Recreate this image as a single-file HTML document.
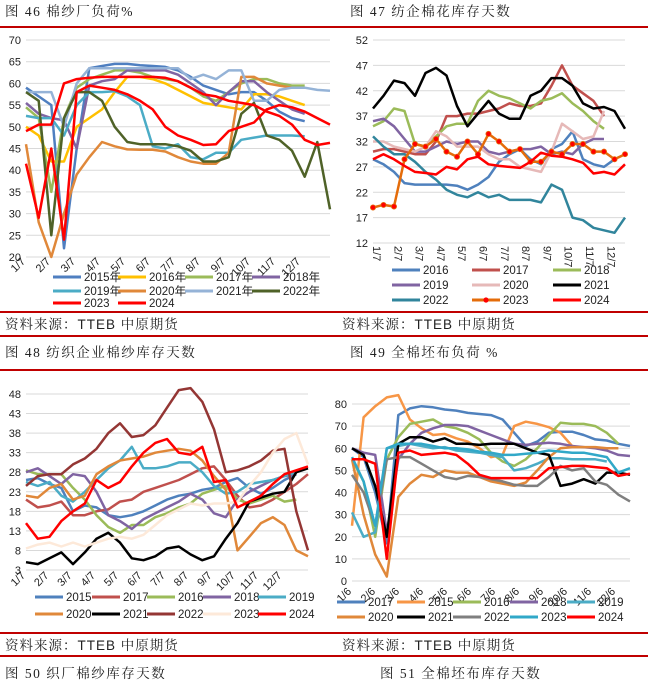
<!DOCTYPE html>
<html><head><meta charset="utf-8">
<style>
html,body{margin:0;padding:0;background:#fff;}
svg{display:block;}
.t{font-family:"Liberation Serif","Noto Serif CJK SC",serif;font-size:13.5px;fill:#222;letter-spacing:1.5px;}
.s{font-family:"Liberation Sans","Noto Serif CJK SC",serif;font-size:13.5px;fill:#222;letter-spacing:1px;}
.ax{font-family:"Liberation Sans",sans-serif;font-size:11px;fill:#222;}
.lg{font-family:"Liberation Sans","Noto Sans CJK SC",sans-serif;font-size:11.5px;fill:#222;}
</style></head>
<body>
<svg id="root" width="648" height="684" viewBox="0 0 648 684" xmlns="http://www.w3.org/2000/svg">
<rect width="648" height="684" fill="#fff"/>
<text class="t" x="5" y="16">图 46 棉纱厂负荷%</text>
<text class="t" x="350" y="16">图 47 纺企棉花库存天数</text>
<rect x="0" y="26" width="648" height="2" fill="#c00000"/>
<rect x="0" y="311" width="648" height="2" fill="#c00000"/>
<text class="s" x="5" y="329">资料来源：TTEB 中原期货</text>
<text class="s" x="342" y="329">资料来源：TTEB 中原期货</text>
<rect x="0" y="335" width="648" height="2" fill="#c00000"/>
<text class="t" x="5" y="357">图 48 纺织企业棉纱库存天数</text>
<text class="t" x="350" y="357">图 49 全棉坯布负荷 %</text>
<rect x="0" y="369" width="648" height="2" fill="#c00000"/>
<rect x="0" y="632" width="648" height="2" fill="#c00000"/>
<text class="s" x="5" y="650">资料来源：TTEB 中原期货</text>
<text class="s" x="342" y="650">资料来源：TTEB 中原期货</text>
<rect x="0" y="655" width="648" height="2" fill="#c00000"/>
<text class="t" x="5" y="678">图 50 织厂棉纱库存天数</text>
<text class="t" x="380" y="678">图 51 全棉坯布库存天数</text>
</svg>
<script>
// ---------- Fig 46 data ----------
const c46Ticks = [20,25,30,35,40,45,50,55,60,65,70];
const c46Cats = ["1/7","2/7","3/7","4/7","5/7","6/7","7/7","8/7","9/7","10/7","11/7","12/7"];
const c46_2015 = [59,57,55,22,45,63.5,64,64.5,64.5,64.2,64,63.8,63,61.5,59.5,58.5,57.5,58,58,56,53.5,52,51.3];
const c46_2016 = [50,48,42,42,50,52,54,58,61.5,61.5,61,60,58.5,57,55.5,55,54.5,54,57.5,57.5,57,56,55];
const c46_2017 = [54.5,52,35,52,59,61,62,63,63,62.5,61.5,61,60.5,59,57,56,58,60,61,61,60,59.5,59.5];
const c46_2018 = [55.5,53,52,51.5,45,59.5,60.5,61,63,63,63,63,62,60,58,55,58,60.5,60.5,58,56,54,53];
const c46_2019 = [52.5,52,52,48,55,58,58,58.2,57,55,45.5,45,46,43,42.5,44,44,47,47.5,48,48,48,47.8];
const c46_2020 = [46,28,20,30,39,43,46.5,45.5,44.8,44.7,44.7,44.3,43,42,41.5,41.5,44,61.5,61.5,60,59.5,59,59];
const c46_2021 = [58,58,58,50,60,63.5,63.5,63.5,63.5,63.5,63.5,63.5,63.5,61,62,61,63,63,56,56,58.5,59,59,58.5,58.3];
const c46_2022 = [58,56,25,52,58,58,56,50,46.5,46,46,46,45.5,44.5,42,42,43,53,55.5,48,47,44.5,38.5,46.5,31];
const c46_2023 = [41.5,29,45,24,58,59.5,59,58.5,57.5,56,54,50,48,47,45.8,46,49,50,51,54,55,54.5,53.5,52,50.5];
const c46_2024 = [49,50.5,50.5,60,61,61.3,61.5,61.5,61.5,61.5,61.5,61.3,60.5,59,57.5,57,56,55.5,55,53.5,52.5,50.5,47,45.8,46.3];
// ---------- Fig 47 data ----------
const c47Ticks = [12,17,22,27,32,37,42,47,52];
const c47Cats = ["1/7","2/7","3/7","4/7","5/7","6/7","7/7","8/7","9/7","10/7","11/7","12/7"];
const c47_2016 = [28.5,27.5,26,23.8,23.5,23.5,23.5,23.5,23.3,22.5,23.5,25,28,29.5,30.5,28.5,27.5,30.5,31.5,34,28.5,27.5,27,28.5];
const c47_2017 = [30,30.5,30.5,30,29.5,29.5,32,37,37,37.5,37.5,38,38.5,39.5,39,39,39.5,43,47,43,41.5,40,37];
const c47_2018 = [35,36,38.5,38,31.5,31,33,35,35.5,35.5,40,42,41,40.5,39.5,38.5,40,40.5,41.5,39.5,38,36,34.5];
const c47_2019 = [36,36.5,35,32.5,30,30,31,32,31.5,32,32,30,29.5,30,30.5,30.5,31,29.5,30,29.5,31.5,32.5,32.5];
const c47_2020 = [32,32,31,30.5,30,31,34,33,31,31,31,29.5,28.5,28.5,27,26.5,26,30,35.5,34,32.5,33,38];
const c47_2021 = [38.5,41,44,43.5,41,45.5,46.5,45,39,35,37.5,40,37.5,36.5,36.5,41,42,44.5,44.5,43,39.5,38.5,38.8,38,34.5];
const c47_2022 = [33,31,29.5,29.5,28,26,24.5,22.5,21.5,21,22,21,21.5,20.5,20.5,20.5,20,23.5,22.5,17,16.5,15,14.5,14,17];
const c47_2023 = [19,19.5,19.2,28.5,31.5,31,32.5,30,29,32,29.5,33.5,32,30,30.5,28,28,30,29.5,31.5,31.5,30,30,28.5,29.5];
const c47_2024 = [28.5,29.5,28.5,27.2,26,25.8,25.5,27,26.5,28.5,29,27.5,27.2,27,26.8,28,29.8,29.2,29,28.5,27.8,25.7,26,25.5,27.5];
// ---------- Fig 48 data ----------
const c48Ticks = [3,8,13,18,23,28,33,38,43,48];
const c48Cats = ["1/7","2/7","3/7","4/7","5/7","6/7","7/7","8/7","9/7","10/7","11/7","12/7"];
const c48_2015 = [26,26.5,25,24,18,19.5,19,17,16.5,17,18,19.5,21,22,22.5,23.5,24,25.5,26.5,24,22.5,24,26,27.5];
const c48_2017 = [21,19,19.5,20.5,17,17,18,18.5,20.5,21,23,24,25,26,27.5,29,29.5,26,22,19,19.5,21,23,25,27.5];
const c48_2016 = [28.5,27.5,27.5,27.5,24,21,17,14,12.5,14.5,14.5,16.5,17.5,19,20,22.5,23.5,24.5,21,20,21,22,20.5,21];
const c48_2018 = [28,29,27,25,27.5,27,23,17,15.5,13.5,16,17.5,19,20.5,22.5,21,17.5,16.5,21,23,24.5,26,27,27.5];
const c48_2019 = [25.5,24.5,25.5,22,20.5,23,26,29,31,34.5,29,29,29.5,30.5,30.5,28,24.5,22.5,23,25,25.5,26,27,28];
const c48_2020 = [22,21.5,24,25,21,22,27.5,29.5,31,31.5,32,33,33.5,34,33.5,31,27,23.5,8,11.5,15,16.5,14.5,8,6.5];
const c48_2021 = [5,4.5,6,7.5,4.5,7.5,11,12.5,10,6,5.5,6.5,8.5,9,7,5.5,6.5,11,15,20.5,21.5,22.5,23,28,29];
const c48_2022 = [24.5,27,27.5,27.5,30,31.5,34,38,40.5,37,37.5,40,44.5,49,49.5,46,39,28,28.5,29.5,31,33.5,34,18,8];
const c48_2023 = [8.5,9.5,10,9,10,9,10,11,11.5,11,12,14.5,17,18.5,20,19.5,20,20,20.5,24.5,28,33,36.5,38,30];
const c48_2024 = [15,11,11.5,15.5,18,20,26,24,25.5,29.5,33,35.5,36.5,33,32.5,34.5,25.5,26,19,20.5,22,25,27.5,28.5,29.5];
// ---------- Fig 49 data ----------
const c49Ticks = [0,10,20,30,40,50,60,70,80];
const c49Cats = ["1/6","2/6","3/6","4/6","5/6","6/6","7/6","8/6","9/6","10/6","11/6","12/6"];
const c49_2017 = [60,56,40,17,75,78,79,78.5,77.5,77,76,75.5,75,73,67,61,63,67,67.5,67.5,66,64,63.5,62,61];
const c49_2015 = [25,74,79,83,84,73,69,66,66.5,64.5,63,60,56,57,70,72,71,69.5,67,61];
const c49_2016 = [55,45,20,55,65,71,72,73,70,69,67,64,58,54,52,55,60,66,71.5,71,71,70,67,62];
const c49_2018 = [60,58,57,22,55,62,67,69,70.5,70.5,70,68,66,64,62,61.5,62,62.5,62,61,60.5,60,59,57,56.5];
const c49_2019 = [31,20,22,60,61,62,61,60,60.5,59,58.5,58,57,56,50,51,53,55.5,55.5,55,55,55,54];
const c49_2020 = [55,30,12,2,38,44,48,47,50,49,49,47,45,44,43,44.5,50,56,60,60.5,60.5,60.5,60,60];
const c49_2021 = [60,57,43,20,62,65,65,63,64.5,62,62,61.5,62,62,62,60,58,57,43,44,46,44,49,49,48];
const c49_2022 = [48,40,25,55,56,56,53,50,47,46,47.5,47,46,45,43.5,43,43,47,52,50,51,45,43.5,39,36];
const c49_2023 = [56,45,25,60,62,62,62,61,60,60,59.5,58.5,58,57,57,57.5,58,59,58.5,58,58,57,56,49,51];
const c49_2024 = [55,55,53,10,58,59,57,57.5,58,57,53,48,46.5,46.5,46.5,46.5,46.5,51,51.5,52,52,51.5,51,47.5,48.5];

const NS = "http://www.w3.org/2000/svg";
const root = document.getElementById('root');
function mk(tag, attrs, parent){
  const e = document.createElementNS(NS, tag);
  for (const k in attrs) e.setAttribute(k, attrs[k]);
  (parent||root).appendChild(e);
  return e;
}
function drawChart(cfg){
  const g = mk('g', {});
  
  
  const ymin = cfg.ticks[0], ymax = cfg.ticks[cfg.ticks.length-1];
  const yS = v => cfg.y1 - (v - ymin) / (ymax - ymin) * (cfg.y1 - cfg.y0);
  const xS = i => cfg.x0 + i * (cfg.x1 - cfg.x0) / 24;
  cfg.ticks.forEach(t => {
    const ln = mk('line', {x1: cfg.x0, x2: cfg.x1, y1: yS(t), y2: yS(t), stroke: '#d9d9d9', 'stroke-width': 1}, g);
    
    
    const tx = mk('text', {x: cfg.x0 - 5, y: yS(t) + 4, 'text-anchor': 'end', class: 'ax'}, g);
    tx.textContent = t;
    
    
  });
  cfg.cats.forEach((c, i) => {
    const x = cfg.x0 + i * cfg.catStep;
    const tx = mk('text', {x: x, y: cfg.catY, class: 'ax', transform: 'rotate(' + cfg.rot + ' ' + x + ' ' + cfg.catY + ')', 'text-anchor': cfg.rot > 0 ? 'start' : 'end'}, g);
    tx.textContent = c;
    
    
  });
  cfg.series.forEach(s => {
    const pts = s.data.map((v, i) => xS(i).toFixed(1) + ',' + yS(v).toFixed(1)).join(' ');
    const pl = mk('polyline', {points: pts, fill: 'none', stroke: s.color, 'stroke-width': 2.5, 'stroke-linejoin': 'round'}, g);
    
    
    if (s.dots) {
      s.data.forEach((v, i) => {
        const c = mk('circle', {cx: xS(i), cy: yS(v), r: 2.6, fill: '#ff0000', stroke: s.color, 'stroke-width': 0.8}, g);
        
        
      });
    }
  });
  cfg.series.forEach((s, k) => {
    const col = k % cfg.legCols, row = Math.floor(k / cfg.legCols);
    const lx = cfg.legX[col], ly = cfg.legY[row];
    const lg = mk('g', {}, g);
    
    
    mk('line', {x1: lx, x2: lx + 28, y1: ly, y2: ly, stroke: s.color, 'stroke-width': 3}, lg);
    if (s.dots) mk('circle', {cx: lx + 14, cy: ly, r: 2.6, fill: '#ff0000'}, lg);
    const tx = mk('text', {x: lx + 31, y: ly + 4, class: 'lg'}, lg);
    tx.textContent = s.label;
  });
}
drawChart({id: 'fig46-chart', x0: 26, x1: 330, y0: 40, y1: 257, ticks: c46Ticks, cats: c46Cats, catStep: 25, catY: 262, rot: -45,
  legCols: 4, legX: [53, 118, 185, 252], legY: [277, 291, 303],
  series: [
    {name: '2015', label: '2015年', color: '#4f7fc0', data: c46_2015},
    {name: '2016', label: '2016年', color: '#ffc000', data: c46_2016},
    {name: '2017', label: '2017年', color: '#9bbb59', data: c46_2017},
    {name: '2018', label: '2018年', color: '#8064a2', data: c46_2018},
    {name: '2019', label: '2019年', color: '#4bacc6', data: c46_2019},
    {name: '2020', label: '2020年', color: '#e0883a', data: c46_2020},
    {name: '2021', label: '2021年', color: '#95b3d7', data: c46_2021},
    {name: '2022', label: '2022年', color: '#4f6228', data: c46_2022},
    {name: '2023', label: '2023', color: '#ff0000', data: c46_2023},
    {name: '2024', label: '2024', color: '#ff0000', data: c46_2024}
  ]});
drawChart({id: 'fig47-chart', x0: 373, x1: 625, y0: 40, y1: 243, ticks: c47Ticks, cats: c47Cats, catStep: 21.3, catY: 246, rot: 90,
  legCols: 3, legX: [392, 472, 553], legY: [270, 285, 300],
  series: [
    {name: '2016', label: '2016', color: '#4f81bd', data: c47_2016},
    {name: '2017', label: '2017', color: '#c0504d', data: c47_2017},
    {name: '2018', label: '2018', color: '#9bbb59', data: c47_2018},
    {name: '2019', label: '2019', color: '#8064a2', data: c47_2019},
    {name: '2020', label: '2020', color: '#e6b9b8', data: c47_2020},
    {name: '2021', label: '2021', color: '#000000', data: c47_2021},
    {name: '2022', label: '2022', color: '#31859c', data: c47_2022},
    {name: '2023', label: '2023', color: '#e46c0a', data: c47_2023, dots: true},
    {name: '2024', label: '2024', color: '#ff0000', data: c47_2024}
  ]});
drawChart({id: 'fig48-chart', x0: 26, x1: 308, y0: 394, y1: 570, ticks: c48Ticks, cats: c48Cats, catStep: 23.3, catY: 576, rot: -45,
  legCols: 5, legX: [35, 92, 147, 203, 258], legY: [597, 614],
  series: [
    {name: '2015', label: '2015', color: '#4f81bd', data: c48_2015},
    {name: '2017', label: '2017', color: '#c0504d', data: c48_2017},
    {name: '2016', label: '2016', color: '#9bbb59', data: c48_2016},
    {name: '2018', label: '2018', color: '#8064a2', data: c48_2018},
    {name: '2019', label: '2019', color: '#4bacc6', data: c48_2019},
    {name: '2020', label: '2020', color: '#e0883a', data: c48_2020},
    {name: '2021', label: '2021', color: '#000000', data: c48_2021},
    {name: '2022', label: '2022', color: '#943634', data: c48_2022},
    {name: '2023', label: '2023', color: '#fde9d9', data: c48_2023},
    {name: '2024', label: '2024', color: '#ff0000', data: c48_2024}
  ]});
drawChart({id: 'fig49-chart', x0: 352, x1: 630, y0: 404, y1: 581, ticks: c49Ticks, cats: c49Cats, catStep: 24, catY: 592, rot: -45,
  legCols: 5, legX: [337, 397, 453, 510, 567], legY: [602, 617],
  series: [
    {name: '2017', label: '2017', color: '#4f81bd', data: c49_2017},
    {name: '2015', label: '2015', color: '#f79646', data: c49_2015},
    {name: '2016', label: '2016', color: '#9bbb59', data: c49_2016},
    {name: '2018', label: '2018', color: '#8064a2', data: c49_2018},
    {name: '2019', label: '2019', color: '#4bacc6', data: c49_2019},
    {name: '2020', label: '2020', color: '#e0883a', data: c49_2020},
    {name: '2021', label: '2021', color: '#000000', data: c49_2021},
    {name: '2022', label: '2022', color: '#7f7f7f', data: c49_2022},
    {name: '2023', label: '2023', color: '#31a8c8', data: c49_2023},
    {name: '2024', label: '2024', color: '#ff0000', data: c49_2024}
  ]});
</script>
</body></html>
